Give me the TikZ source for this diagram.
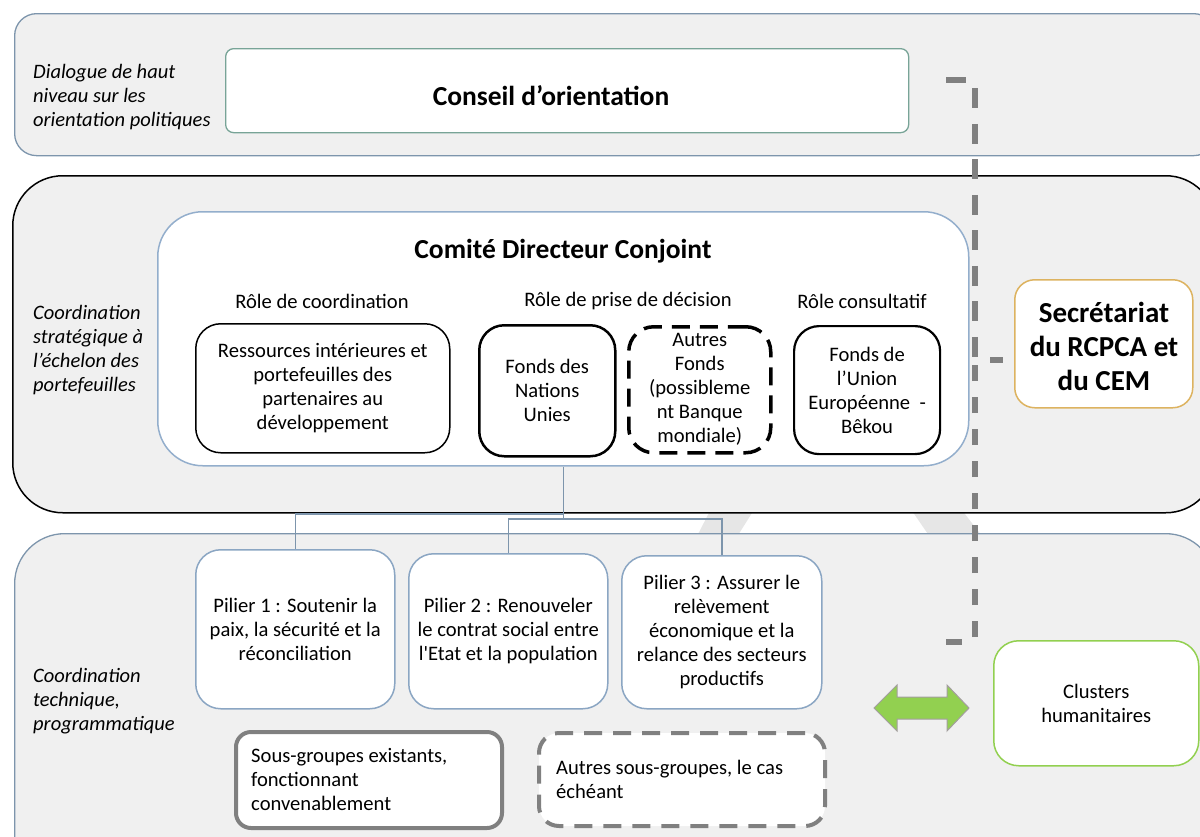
\documentclass[tikz,border=0pt]{standalone}
\usepackage{fontspec}
\setmainfont{Carlito}[Ligatures=TeXOff]
\definecolor{bandfill}{HTML}{F0F0F0}
\definecolor{bandline}{HTML}{7D95AC}
\definecolor{cdcline}{HTML}{93AECC}
\definecolor{pilline}{HTML}{8BA6C3}
\definecolor{conline}{HTML}{78A497}
\definecolor{secline}{HTML}{DDB360}
\definecolor{lgreen}{HTML}{92D050}
\definecolor{dgray}{HTML}{808080}
\definecolor{chev}{HTML}{E6E6E6}
\definecolor{arrline}{HTML}{A39E9E}
\newcommand{\normtxt}{\fontsize{20.6}{24}\selectfont}
\tikzset{
  band/.style={draw=bandline, fill=bandfill, line width=1.3, anchor=north west, inner sep=0},
  whitebox/.style={fill=white, anchor=north west, inner sep=0, align=center, font=\normtxt},
  normtxt/.style={font=\normtxt, align=center},
  itxt/.style={font=\fontsize{20.5}{24}\selectfont\itshape, align=left, anchor=north west, inner sep=0},
  conn/.style={draw=bandline, line width=1.5},
  dashline/.style={draw=dgray, line width=5.5, dash pattern=on 20 off 15.5, rounded corners=4},
}
\begin{document}
\begin{tikzpicture}[x=1pt,y=-1pt]
\useasboundingbox (0,0) rectangle (1200,836);
\clip (0,0) rectangle (1200,836);
% faint background chevron visible in the gap
\fill[chev] (713,505) -- (757,505) -- (735,540) -- (695,540) -- cycle;
\fill[chev] (908,505) -- (958,505) -- (985,540) -- (932,540) -- cycle;

% bands
\node[band, rounded corners=22, minimum width=1201, minimum height=142] (b1) at (14,13) {};
\node[band, draw=black, line width=1.5, rounded corners=50, minimum width=1203, minimum height=337] (b2) at (12,175) {};
\node[band, rounded corners=50, minimum width=1201, minimum height=360] (b3) at (14,533) {};

% band labels
\node[itxt] (l1) at (33,64) {Dialogue de haut\\niveau sur les\\orientation politiques};
\node[itxt] (l2) at (33,305) {Coordination\\strat\'egique \`a\\l’\'echelon des\\portefeuilles};
\node[itxt] (l3) at (33,668) {Coordination\\technique,\\programmatique};

% Conseil
\node[whitebox, draw=conline, line width=1.3, rounded corners=8, minimum width=683, minimum height=84] (co) at (225,48) {};
\node[font=\fontsize{27.5}{32}\selectfont\bfseries] (cot) at (551,96) {Conseil d’orientation};

% Comite directeur conjoint
\node[whitebox, draw=cdcline, line width=1.5, rounded corners=45, minimum width=811, minimum height=254] (cdc) at (157,211) {};
\node[font=\fontsize{27.5}{32}\selectfont\bfseries] (cdct) at (563,251) {Comit\'e Directeur Conjoint};
\node[normtxt] (r1) at (322,301) {R\^ole de coordination};
\node[normtxt] (r2) at (628,301) {R\^ole de prise de d\'ecision};
\node[normtxt] (r3) at (862,301) {R\^ole consultatif};

\node[whitebox, draw=black, line width=1.5, rounded corners=25, minimum width=254, minimum height=129] (res) at (195,323) {Ressources int\'erieures et\\portefeuilles des\\partenaires au\\d\'eveloppement};
\node[whitebox, draw=black, line width=2.5, rounded corners=25, minimum width=136, minimum height=131] (fnu) at (478,324) {Fonds des\\Nations\\Unies};
\node[whitebox, draw=black, line width=3.5, dash pattern=on 18 off 10, rounded corners=25, minimum width=142, minimum height=126] (af) at (627,325) {Autres\\Fonds\\(possibleme\\nt Banque\\mondiale)};
\node[whitebox, draw=black, line width=2.2, rounded corners=25, minimum width=146, minimum height=128] (fue) at (793,325) {Fonds de\\l’Union\\Europ\'eenne~ -\\B\^ekou};

% Secretariat
\node[whitebox, draw=secline, line width=1.5, rounded corners=20, minimum width=178, minimum height=128] (sec) at (1014,279) {};
\node[align=center, font=\fontsize{29}{34}\selectfont\bfseries] (sect) at (1104,346) {Secr\'etariat\\du RCPCA et\\du CEM};

% Piliers
\node[whitebox, draw=pilline, line width=1.5, rounded corners=25, minimum width=199, minimum height=159] (p1) at (195,549) {Pilier 1 : Soutenir la\\paix, la s\'ecurit\'e et la\\r\'econciliation};
\node[whitebox, draw=pilline, line width=1.5, rounded corners=25, minimum width=199, minimum height=155] (p2) at (408,553) {Pilier 2 : Renouveler\\le contrat social entre\\l'Etat et la population};
\node[whitebox, draw=pilline, line width=1.5, rounded corners=25, minimum width=200, minimum height=153] (p3) at (621,555) {Pilier 3 : Assurer le\\rel\`evement\\\'economique et la\\relance des secteurs\\productifs};

% connectors from the comite to the piliers
\coordinate (j1) at (cdc.south |- 0,514);
\coordinate (j2) at (cdc.south |- 0,519);
\draw[conn] (cdc.south) -- (j1) -| (p1.north);
\draw[conn] (j1) -- (j2) -| (p2.north);
\draw[conn] (j2) -| (p3.north);

% sous-groupes
\node[whitebox, draw=dgray, line width=4, rounded corners=15, minimum width=266, minimum height=96] (sg1) at (234,730) {};
\node[normtxt, align=left, anchor=west, inner sep=0] (sg1t) at (251,779) {Sous-groupes existants,\\fonctionnant\\convenablement};
\node[whitebox, draw=dgray, line width=4, dash pattern=on 18 off 11, rounded corners=20, minimum width=286, minimum height=93] (sg2) at (537,731) {};
\node[normtxt, align=left, anchor=west, inner sep=0] (sg2t) at (556,779) {Autres sous-groupes, le cas\\\'ech\'eant};

% clusters
\node[whitebox, draw=lgreen, line width=1.5, rounded corners=25, minimum width=205, minimum height=125] (cl) at (993,640) {Clusters\\humanitaires};

% green double arrow
\filldraw[fill=lgreen, draw=arrline, line width=1] (874,708) -- (897,685) -- (897,697) -- (947,697) -- (947,685) -- (969,708) -- (947,731) -- (947,719) -- (897,719) -- (897,731) -- cycle;

% dashed bracket connector to the secretariat
\coordinate (dj) at (975,360);
\coordinate (dt) at (946,80);
\coordinate (db) at (946,642);
\draw[dashline] (dt) -- (dt -| dj) -- (dj);
\draw[dashline, dash pattern=on 16 off 16] (db) -- (db -| dj) -- (dj);
\draw[dgray, line width=5.5] (990,360) -- (1003,360);
\end{tikzpicture}
\end{document}
